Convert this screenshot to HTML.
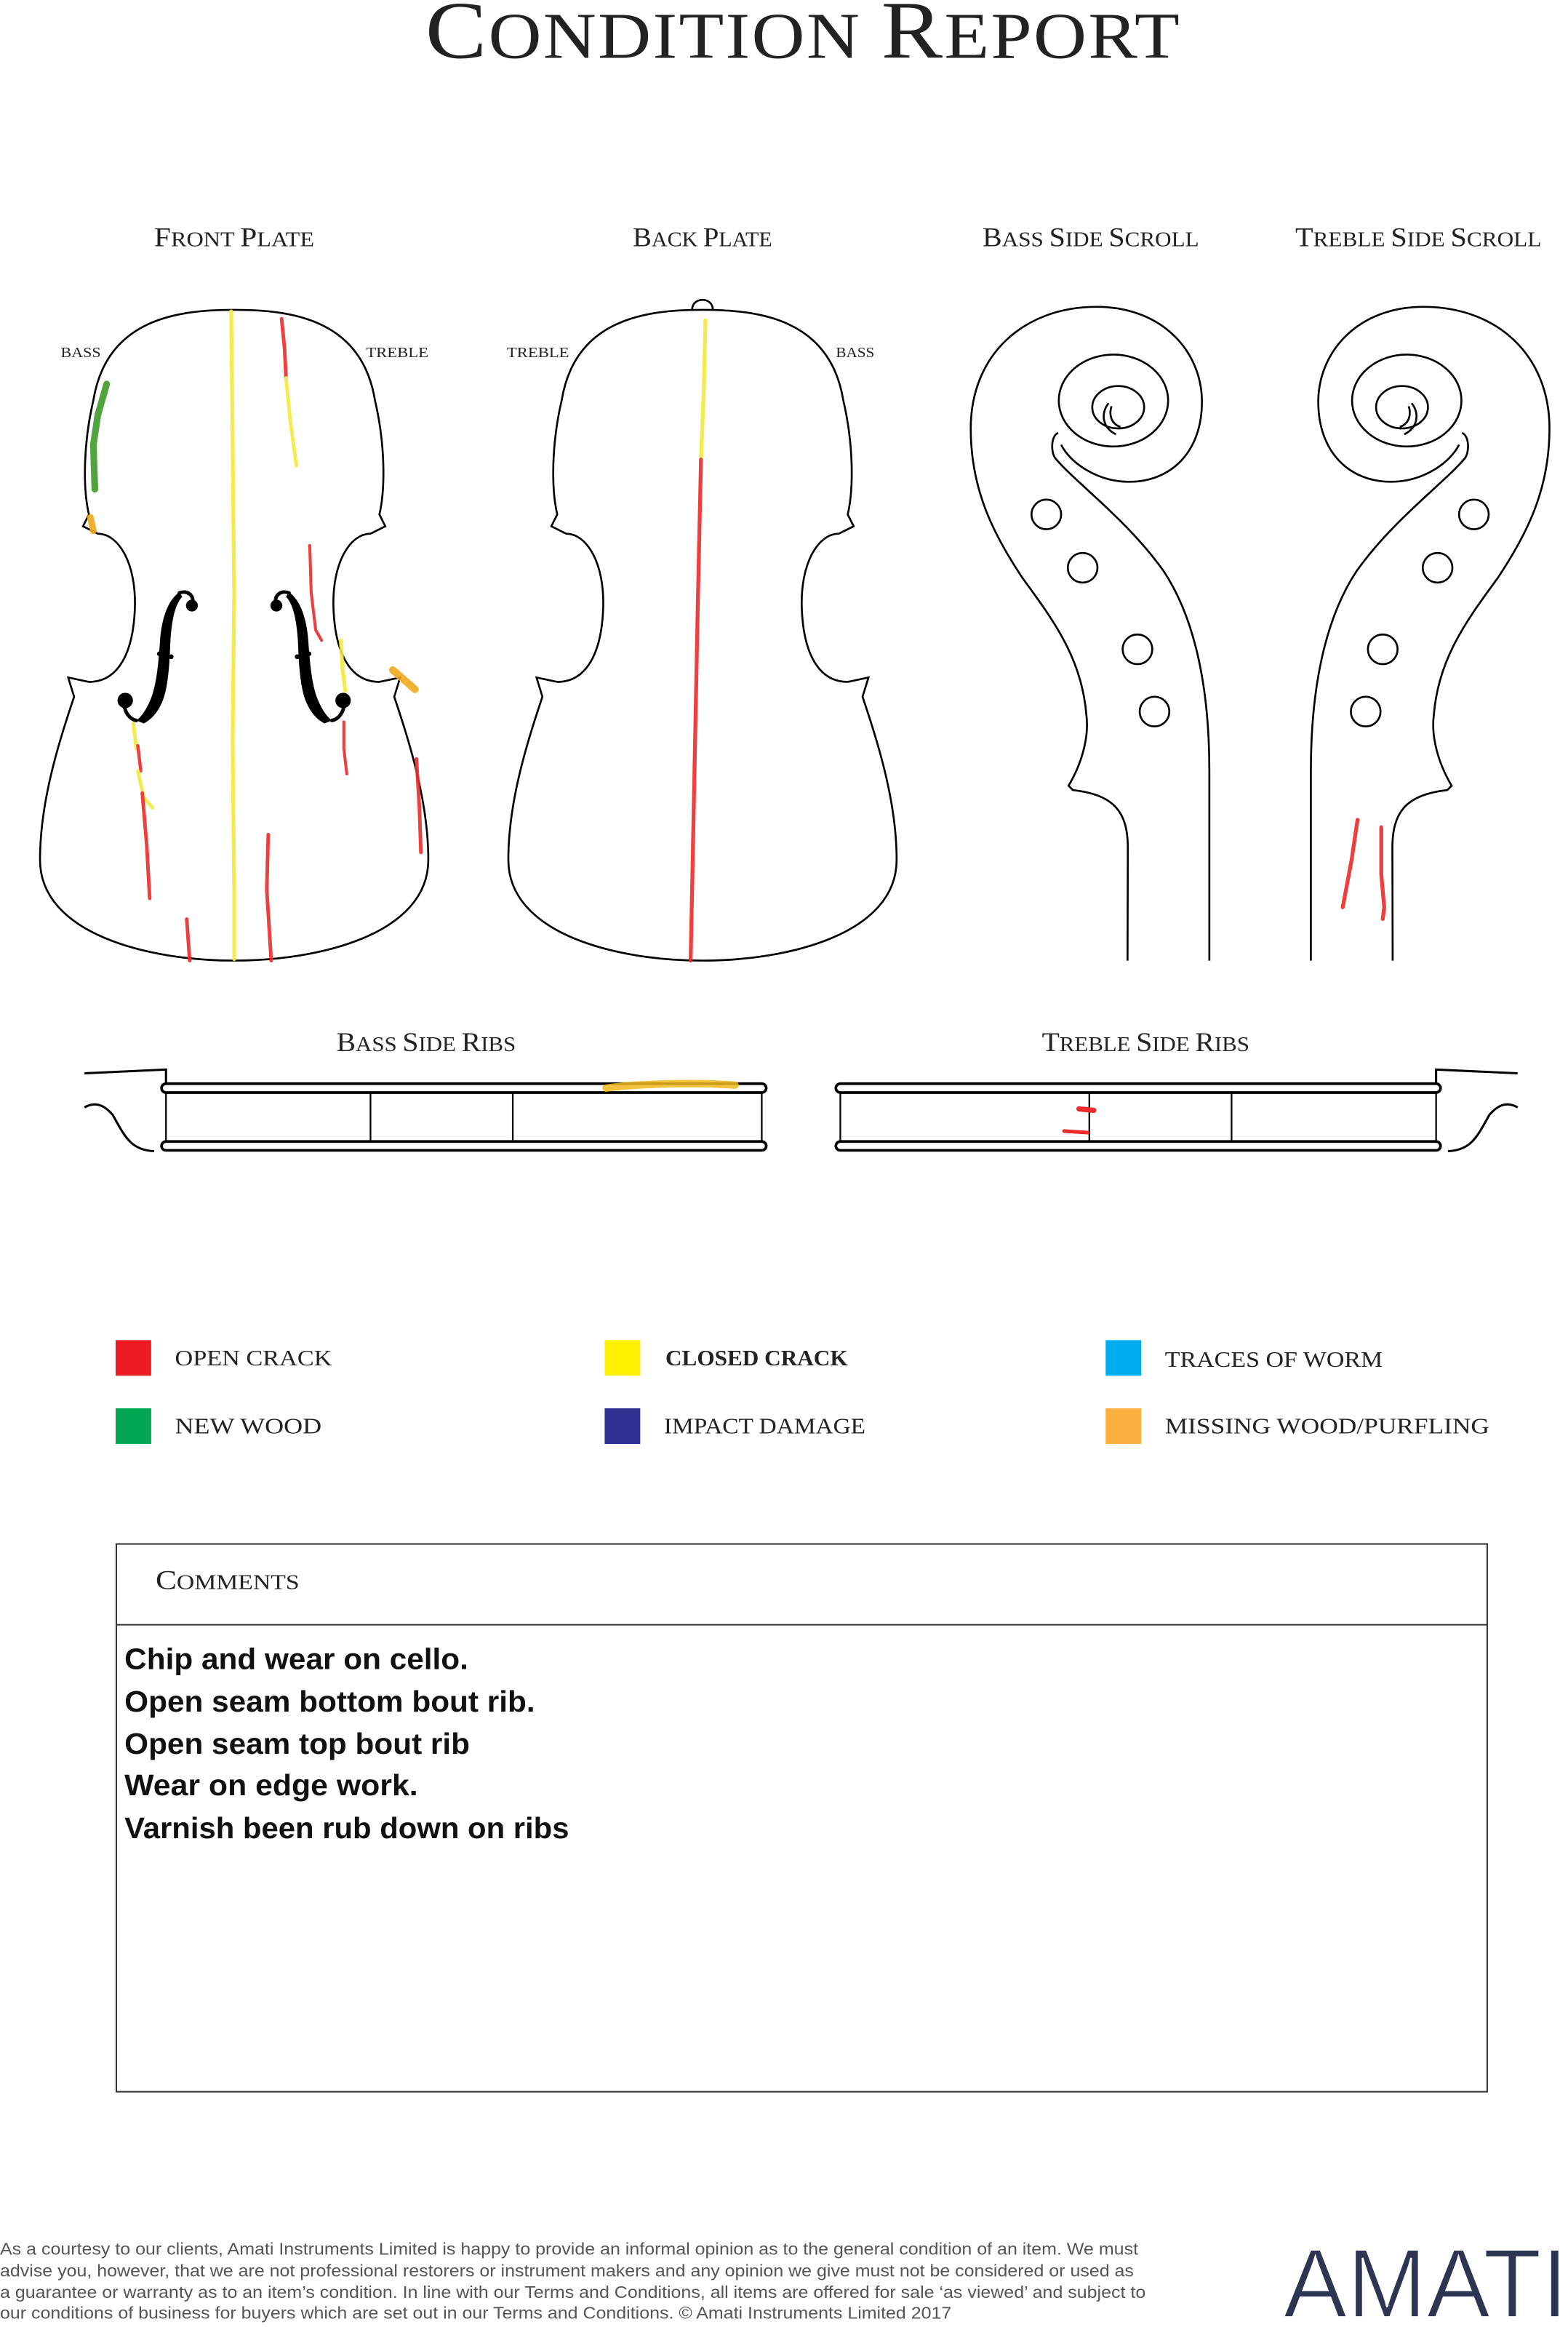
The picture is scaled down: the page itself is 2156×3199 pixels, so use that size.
<!DOCTYPE html>
<html><head><meta charset="utf-8"><style>
html,body{margin:0;padding:0;background:#fff;}
svg{display:block;}
.s{font-family:"Liberation Serif",serif;fill:#222;}
</style></head><body>
<svg width="2156" height="3199" viewBox="0 0 1058 1569.7" preserveAspectRatio="none" xmlns="http://www.w3.org/2000/svg">
<rect x="0" y="0" width="1058" height="1569.7" fill="#fff"/>

<text class="s" x="287" y="39" textLength="510" lengthAdjust="spacingAndGlyphs" style="font-size:44px;letter-spacing:1px"><tspan style="font-size:55px">C</tspan>ONDITION <tspan style="font-size:55px">R</tspan>EPORT</text>

<g class="s" style="font-size:14px">
<text x="104" y="166" textLength="108" lengthAdjust="spacingAndGlyphs"><tspan style="font-size:18px">F</tspan>RONT <tspan style="font-size:18px">P</tspan>LATE</text>
<text x="427" y="166" textLength="94" lengthAdjust="spacingAndGlyphs"><tspan style="font-size:18px">B</tspan>ACK <tspan style="font-size:18px">P</tspan>LATE</text>
<text x="663" y="166" textLength="146" lengthAdjust="spacingAndGlyphs"><tspan style="font-size:18px">B</tspan>ASS <tspan style="font-size:18px">S</tspan>IDE <tspan style="font-size:18px">S</tspan>CROLL</text>
<text x="874" y="166" textLength="166" lengthAdjust="spacingAndGlyphs"><tspan style="font-size:18px">T</tspan>REBLE <tspan style="font-size:18px">S</tspan>IDE <tspan style="font-size:18px">S</tspan>CROLL</text>
<text x="227" y="709" textLength="121" lengthAdjust="spacingAndGlyphs"><tspan style="font-size:18px">B</tspan>ASS <tspan style="font-size:18px">S</tspan>IDE <tspan style="font-size:18px">R</tspan>IBS</text>
<text x="703" y="709" textLength="140" lengthAdjust="spacingAndGlyphs"><tspan style="font-size:18px">T</tspan>REBLE <tspan style="font-size:18px">S</tspan>IDE <tspan style="font-size:18px">R</tspan>IBS</text>
</g>
<g class="s" style="font-size:10px">
<text x="41" y="241" textLength="27" lengthAdjust="spacingAndGlyphs">BASS</text>
<text x="247" y="241" textLength="42" lengthAdjust="spacingAndGlyphs">TREBLE</text>
<text x="342" y="241" textLength="42" lengthAdjust="spacingAndGlyphs">TREBLE</text>
<text x="564" y="241" textLength="26" lengthAdjust="spacingAndGlyphs">BASS</text>
</g>

<defs>
<path id="half" d="M158,209 C120,209 72,215 63,270 C56,300 56,330 60,347 L56,355 L66,360 C80,360 92,380 91,410 C90,440 80,460 60,460 L46,457 L50,470 C40,500 27,540 27,580 C27,630 100,648 158,648" fill="none" stroke="#000" stroke-width="1.3"/>
<g id="fhole">
<path d="M130,407 C131,401 126,398 121,400" fill="none" stroke="#000" stroke-width="2.4" stroke-linecap="round"/>
<path d="M121,399.5 C113,405 109,418 108,432 C107,446 106,458 103,468 C100,477 96,483 92,486 L97,488 C105,484 110,475 112,465 C114,455 114.5,445 115,432 C116,418 118,408 123,402.5 Z" fill="#000"/>
<path d="M92,486 C87,485 83,479 84,473" fill="none" stroke="#000" stroke-width="2.4" stroke-linecap="round"/>
<circle cx="129.5" cy="408.5" r="4" fill="#000"/>
<circle cx="84.5" cy="472.5" r="5.2" fill="#000"/>
<circle cx="107.5" cy="441" r="1.6" fill="#000"/>
<circle cx="115.5" cy="443" r="1.6" fill="#000"/>
</g>
</defs>
<use href="#half"/>
<use href="#half" transform="matrix(-1,0,0,1,316,0)"/>
<use href="#fhole"/>
<use href="#fhole" transform="matrix(-1,0,0,1,316,0)"/>
<g transform="translate(316,0)">
<use href="#half"/>
<use href="#half" transform="matrix(-1,0,0,1,316,0)"/>
</g>
<path d="M467,209 C467,200 481,200 481,209" fill="none" stroke="#000" stroke-width="1.3"/>

<g fill="none" stroke-linecap="round" stroke-linejoin="round" opacity="0.9">
<path d="M156,210 L157,300 L158,400 L157,500 L158,600 L158,647" stroke="#f2ea3a" stroke-width="2.6"/>
<path d="M190,215 L192,235 L193,255" stroke="#ee2a2a" stroke-width="2.4"/>
<path d="M193,255 L196,285 L200,314" stroke="#f2ea3a" stroke-width="2.4"/>
<path d="M72,259 L66,280 L63,300 L64,330" stroke="#3e9a2a" stroke-width="4.5"/>
<path d="M61,349 L63,358" stroke="#f0a81c" stroke-width="4.5"/>
<path d="M209,368 L210,400 L213,425 L217,432" stroke="#ee2a2a" stroke-width="2"/>
<path d="M230,432 L231,450 L233,466" stroke="#f2ea3a" stroke-width="2.6"/>
<path d="M265,452 L272,458 L280,465" stroke="#f0a81c" stroke-width="5"/>
<path d="M232,487 L232,505 L234,522" stroke="#ee2a2a" stroke-width="2"/>
<path d="M90,488 L92,505" stroke="#f2ea3a" stroke-width="2.4"/>
<path d="M93,503 L95,520" stroke="#ee2a2a" stroke-width="2.2"/>
<path d="M93,520 L97,538 L103,545" stroke="#f2ea3a" stroke-width="2.4"/>
<path d="M96,535 L99,570 L101,606" stroke="#ee2a2a" stroke-width="2.4"/>
<path d="M181,563 L180,600 L183,648" stroke="#ee2a2a" stroke-width="2.4"/>
<path d="M281,512 L283,545 L284,575" stroke="#ee2a2a" stroke-width="2.4"/>
<path d="M126,620 L128,648" stroke="#ee2a2a" stroke-width="2.4"/>
<path d="M476,216 L475,260 L473,310" stroke="#f2ea3a" stroke-width="2.6"/>
<path d="M473,310 L471,400 L469,500 L467,600 L466,648" stroke="#ee2a2a" stroke-width="2.6"/>
<path d="M916,553 L912,580 L906,612" stroke="#ee2a2a" stroke-width="2.6"/>
<path d="M932,558 L932,590 L934,612 L933,620" stroke="#ee2a2a" stroke-width="2.6"/>
</g>

<defs>
<g id="scroll" fill="none" stroke="#000" stroke-width="1.3">
<path d="M760.8,648 L761,572 C761,548 752,536 724,533 L721,530 C730,515 735,497 733,482 C730,445 712,420 690,390 C670,360 655,330 655,289 C655,240 690,207 740,207 C785,207 811,238 811,271 C811,305 790,325 762,325 C740,325 722,312 716,300"/>
<path d="M714,292 C709,294 709,305 712,309 C725,325 760,350 785,385 C805,415 816,460 816,520 L816,648"/>
<ellipse cx="751.3" cy="270.2" rx="36.9" ry="31"/>
<ellipse cx="754.5" cy="274.7" rx="17.5" ry="14.3"/>
<path d="M748,272 C743,278 743,288 753,293"/>
<path d="M750,274 C748,280 750,286 756,288"/>
<circle cx="706" cy="347" r="10"/>
<circle cx="730.5" cy="383" r="10"/>
<circle cx="767.5" cy="438" r="10"/>
<circle cx="779" cy="480" r="10"/>
</g>
</defs>
<use href="#scroll"/>
<use href="#scroll" transform="matrix(-1,0,0,1,1700.5,0)"/>

<defs>
<g id="rib" fill="none" stroke="#000">
<path d="M57,724 L112,721.5 L112,731" stroke-width="1.5"/>
<path d="M57,747 C64,743 70,745 76,752 C84,766 88,776 104,776.5" stroke-width="1.5"/>
<rect x="109" y="731" width="408" height="6" rx="3" stroke-width="1.8"/>
<rect x="109" y="770" width="408" height="6" rx="3" stroke-width="1.8"/>
<path d="M112,737 L112,770 M514,737 L514,770 M250,737 L250,770 M346,737 L346,770" stroke-width="1.1"/>
</g>
</defs>
<use href="#rib"/>
<use href="#rib" transform="matrix(-1,0,0,1,1081,0)"/>
<path d="M409,734 C430,731 470,730 496,732" stroke="#f0b81c" stroke-width="5" fill="none" stroke-linecap="round" opacity="0.85"/>
<path d="M728,748 L738,749" stroke="#ee2a2a" stroke-width="3.5" stroke-linecap="round"/>
<path d="M718,763 L734,764" stroke="#ee2a2a" stroke-width="2.5" stroke-linecap="round"/>

<rect x="78" y="904" width="24" height="24" fill="#ED1C24"/>
<rect x="408" y="904" width="24" height="24" fill="#FFF200"/>
<rect x="746" y="904" width="24" height="24" fill="#00AEEF"/>
<rect x="78" y="950" width="24" height="24" fill="#00A651"/>
<rect x="408" y="950" width="24" height="24" fill="#2E3192"/>
<rect x="746" y="950" width="24" height="24" fill="#FBB040"/>
<g class="s" style="font-size:15px">
<text x="118" y="921" textLength="106" lengthAdjust="spacingAndGlyphs">OPEN CRACK</text>
<text x="449" y="921" textLength="123" lengthAdjust="spacingAndGlyphs" style="font-weight:bold">CLOSED CRACK</text>
<text x="786" y="922" textLength="147" lengthAdjust="spacingAndGlyphs">TRACES OF WORM</text>
<text x="118" y="967" textLength="99" lengthAdjust="spacingAndGlyphs">NEW WOOD</text>
<text x="448" y="967" textLength="136" lengthAdjust="spacingAndGlyphs">IMPACT DAMAGE</text>
<text x="786" y="967" textLength="219" lengthAdjust="spacingAndGlyphs">MISSING WOOD/PURFLING</text>
</g>

<rect x="78.5" y="1041.5" width="925" height="369.5" fill="none" stroke="#333" stroke-width="1"/>
<line x1="78.5" y1="1096" x2="1003.5" y2="1096" stroke="#333" stroke-width="1"/>
<text class="s" x="105" y="1072" textLength="97" lengthAdjust="spacingAndGlyphs" style="font-size:14px"><tspan style="font-size:18px">C</tspan>OMMENTS</text>
<g style="font-family:'Liberation Sans',sans-serif;font-size:20px;font-weight:bold;fill:#111">
<text x="84" y="1126" textLength="232" lengthAdjust="spacingAndGlyphs">Chip and wear on cello.</text>
<text x="84" y="1154.5" textLength="277" lengthAdjust="spacingAndGlyphs">Open seam bottom bout rib.</text>
<text x="84" y="1183" textLength="233" lengthAdjust="spacingAndGlyphs">Open seam top bout rib</text>
<text x="84" y="1211" textLength="198" lengthAdjust="spacingAndGlyphs">Wear on edge work.</text>
<text x="84" y="1240" textLength="300" lengthAdjust="spacingAndGlyphs">Varnish been rub down on ribs</text>
</g>

<g style="font-family:'Liberation Sans',sans-serif;font-size:11.5px;fill:#555">
<text x="0" y="1521" textLength="768" lengthAdjust="spacingAndGlyphs">As a courtesy to our clients, Amati Instruments Limited is happy to provide an informal opinion as to the general condition of an item. We must</text>
<text x="0" y="1535.5" textLength="765" lengthAdjust="spacingAndGlyphs">advise you, however, that we are not professional restorers or instrument makers and any opinion we give must not be considered or used as</text>
<text x="0" y="1550" textLength="773" lengthAdjust="spacingAndGlyphs">a guarantee or warranty as to an item’s condition. In line with our Terms and Conditions, all items are offered for sale ‘as viewed’ and subject to</text>
<text x="0" y="1564" textLength="642" lengthAdjust="spacingAndGlyphs">our conditions of business for buyers which are set out in our Terms and Conditions. © Amati Instruments Limited 2017</text>
</g>
<text x="866" y="1563" textLength="192" lengthAdjust="spacingAndGlyphs" style="font-family:'Liberation Sans',sans-serif;font-size:66px;fill:#2e3553;stroke:#fff;stroke-width:1.2px">AMATI</text>
</svg>
</body></html>
